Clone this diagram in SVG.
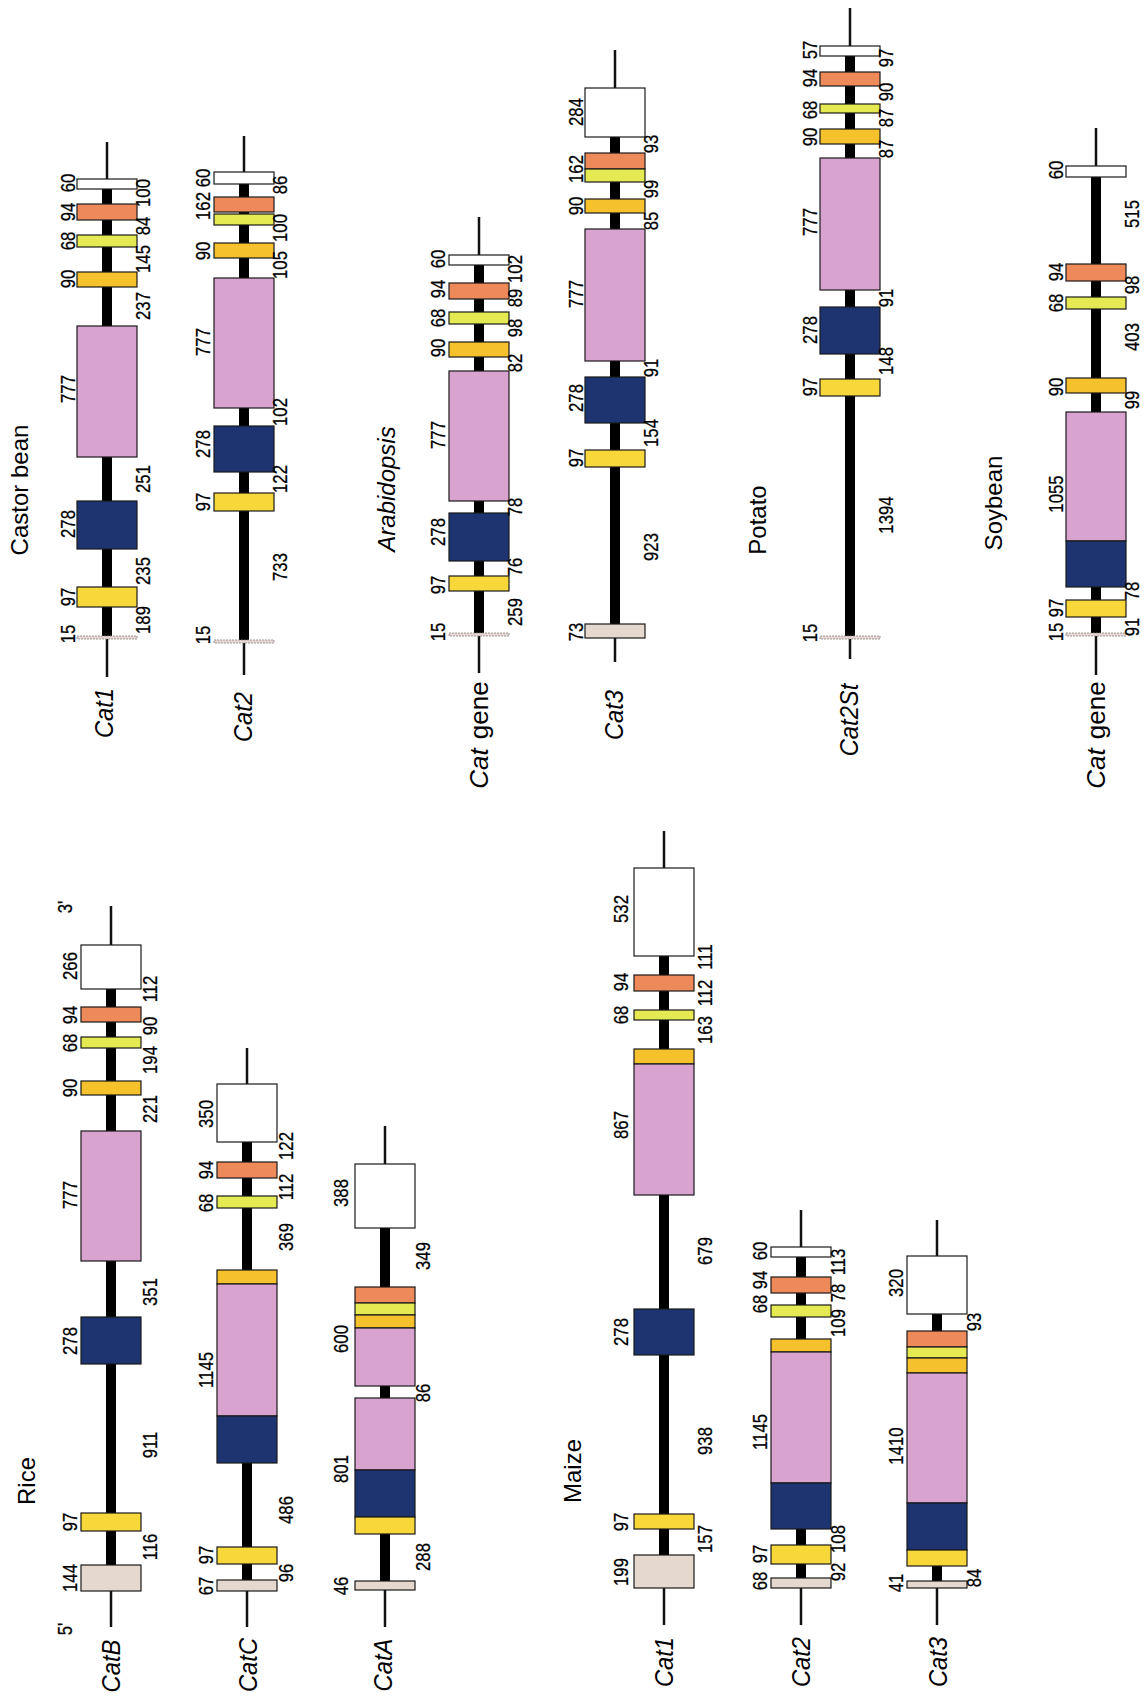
<svg xmlns="http://www.w3.org/2000/svg" width="1146" height="1697" viewBox="0 0 1146 1697">
<style>
.bg{fill:#ffffff}
.thin{stroke:#111;stroke-width:2.5}
.thick{stroke:#000;stroke-width:10}
rect{stroke:#1a1a1a;stroke-width:1.2}
.w{fill:#ffffff}
.o{fill:#ee8a5a}
.g{fill:#e6ea52}
.yo{fill:#f5c12c}
.p{fill:#d9a3cf}
.b{fill:#1d3470}
.y{fill:#f8d73a}
.be{fill:#e5d8cf}
.d{fill:#e6dad6;stroke:#8a8080;stroke-width:0.8;stroke-dasharray:2 1}
text{font-family:"Liberation Sans",Arial,sans-serif;fill:#000;text-anchor:middle}
.n{font-size:19.5px;stroke:#000;stroke-width:0.25}
.gn{font-size:25px;font-style:italic}
.gg{font-size:26px}
.sp{font-size:24px}
.it{font-style:italic}
</style>
<rect class="bg" x="0" y="0" width="1146" height="1697" style="stroke:none"/>

<g id="species-labels">
<text class="sp" transform="translate(28,490) rotate(-90)">Castor bean</text>
<text class="sp it" transform="translate(395,489) rotate(-90)">Arabidopsis</text>
<text class="sp" transform="translate(766,520) rotate(-90)">Potato</text>
<text class="sp" transform="translate(1002,503) rotate(-90)">Soybean</text>
<text class="sp" transform="translate(35,1481) rotate(-90)">Rice</text>
<text class="sp" transform="translate(581,1471) rotate(-90)">Maize</text>
<text class="n" transform="translate(72,907) rotate(-90) scale(0.86,1)">3'</text>
<text class="n" transform="translate(72,1629) rotate(-90) scale(0.86,1)">5'</text>
</g>

<g id="castor-cat1">
<line class="thin" x1="107" y1="142" x2="107" y2="677"/>
<line class="thick" x1="107" y1="184" x2="107" y2="637"/>
<rect class="w" x="77" y="179" width="60" height="10"/>
<rect class="o" x="77" y="204" width="60" height="16"/>
<rect class="g" x="77" y="235" width="60" height="12"/>
<rect class="yo" x="77" y="272" width="60" height="15"/>
<rect class="p" x="77" y="326" width="60" height="131"/>
<rect class="b" x="77" y="501" width="60" height="48"/>
<rect class="y" x="77" y="587" width="60" height="20"/>
<rect class="d" x="77" y="636" width="60" height="3"/>
<text class="gn" transform="translate(113,713) rotate(-90) scale(0.95,1)">Cat1</text>
<g transform="translate(75,0)">
<text class="n" transform="translate(0,634) rotate(-90) scale(0.86,1)">15</text>
<text class="n" transform="translate(0,597) rotate(-90) scale(0.86,1)">97</text>
<text class="n" transform="translate(0,524) rotate(-90) scale(0.86,1)">278</text>
<text class="n" transform="translate(0,389) rotate(-90) scale(0.86,1)">777</text>
<text class="n" transform="translate(0,279) rotate(-90) scale(0.86,1)">90</text>
<text class="n" transform="translate(0,241) rotate(-90) scale(0.86,1)">68</text>
<text class="n" transform="translate(0,212) rotate(-90) scale(0.86,1)">94</text>
<text class="n" transform="translate(0,183) rotate(-90) scale(0.86,1)">60</text>
</g>
<g transform="translate(150,0)">
<text class="n" transform="translate(0,620) rotate(-90) scale(0.86,1)">189</text>
<text class="n" transform="translate(0,571) rotate(-90) scale(0.86,1)">235</text>
<text class="n" transform="translate(0,479) rotate(-90) scale(0.86,1)">251</text>
<text class="n" transform="translate(0,306) rotate(-90) scale(0.86,1)">237</text>
<text class="n" transform="translate(0,259) rotate(-90) scale(0.86,1)">145</text>
<text class="n" transform="translate(0,226) rotate(-90) scale(0.86,1)">84</text>
<text class="n" transform="translate(0,193) rotate(-90) scale(0.86,1)">100</text>
</g>
</g>

<g id="castor-cat2">
<line class="thin" x1="244" y1="136" x2="244" y2="675"/>
<line class="thick" x1="244" y1="178" x2="244" y2="641"/>
<rect class="w" x="214" y="172" width="60" height="12"/>
<rect class="o" x="214" y="197" width="60" height="15"/>
<rect class="g" x="214" y="214" width="60" height="11"/>
<rect class="yo" x="214" y="243" width="60" height="15"/>
<rect class="p" x="214" y="278" width="60" height="130"/>
<rect class="b" x="214" y="426" width="60" height="46"/>
<rect class="y" x="214" y="493" width="60" height="18"/>
<rect class="d" x="214" y="640" width="60" height="3"/>
<text class="gn" transform="translate(252,717) rotate(-90) scale(0.95,1)">Cat2</text>
<g transform="translate(210,0)">
<text class="n" transform="translate(0,635) rotate(-90) scale(0.86,1)">15</text>
<text class="n" transform="translate(0,502) rotate(-90) scale(0.86,1)">97</text>
<text class="n" transform="translate(0,444) rotate(-90) scale(0.86,1)">278</text>
<text class="n" transform="translate(0,342) rotate(-90) scale(0.86,1)">777</text>
<text class="n" transform="translate(0,251) rotate(-90) scale(0.86,1)">90</text>
<text class="n" transform="translate(0,206) rotate(-90) scale(0.86,1)">162</text>
<text class="n" transform="translate(0,178) rotate(-90) scale(0.86,1)">60</text>
</g>
<g transform="translate(287,0)">
<text class="n" transform="translate(0,567) rotate(-90) scale(0.86,1)">733</text>
<text class="n" transform="translate(0,479) rotate(-90) scale(0.86,1)">122</text>
<text class="n" transform="translate(0,412) rotate(-90) scale(0.86,1)">102</text>
<text class="n" transform="translate(0,265) rotate(-90) scale(0.86,1)">105</text>
<text class="n" transform="translate(0,228) rotate(-90) scale(0.86,1)">100</text>
<text class="n" transform="translate(0,185) rotate(-90) scale(0.86,1)">86</text>
</g>
</g>

<g id="arabidopsis-cat">
<line class="thin" x1="479" y1="217" x2="479" y2="673"/>
<line class="thick" x1="479" y1="260" x2="479" y2="634"/>
<rect class="w" x="449" y="255" width="60" height="10"/>
<rect class="o" x="449" y="283" width="60" height="16"/>
<rect class="g" x="449" y="312" width="60" height="12"/>
<rect class="yo" x="449" y="342" width="60" height="15"/>
<rect class="p" x="449" y="371" width="60" height="130"/>
<rect class="b" x="449" y="513" width="60" height="48"/>
<rect class="y" x="449" y="576" width="60" height="15"/>
<rect class="d" x="449" y="633" width="60" height="3"/>
<text class="gg" transform="translate(488,735) rotate(-90)"><tspan class="it">Cat</tspan><tspan dx="9">gene</tspan></text>
<g transform="translate(445,0)">
<text class="n" transform="translate(0,632) rotate(-90) scale(0.86,1)">15</text>
<text class="n" transform="translate(0,585) rotate(-90) scale(0.86,1)">97</text>
<text class="n" transform="translate(0,532) rotate(-90) scale(0.86,1)">278</text>
<text class="n" transform="translate(0,435) rotate(-90) scale(0.86,1)">777</text>
<text class="n" transform="translate(0,348) rotate(-90) scale(0.86,1)">90</text>
<text class="n" transform="translate(0,318) rotate(-90) scale(0.86,1)">68</text>
<text class="n" transform="translate(0,289) rotate(-90) scale(0.86,1)">94</text>
<text class="n" transform="translate(0,259) rotate(-90) scale(0.86,1)">60</text>
</g>
<g transform="translate(522,0)">
<text class="n" transform="translate(0,612) rotate(-90) scale(0.86,1)">259</text>
<text class="n" transform="translate(0,567) rotate(-90) scale(0.86,1)">76</text>
<text class="n" transform="translate(0,507) rotate(-90) scale(0.86,1)">78</text>
<text class="n" transform="translate(0,363) rotate(-90) scale(0.86,1)">82</text>
<text class="n" transform="translate(0,328) rotate(-90) scale(0.86,1)">98</text>
<text class="n" transform="translate(0,298) rotate(-90) scale(0.86,1)">89</text>
<text class="n" transform="translate(0,269) rotate(-90) scale(0.86,1)">102</text>
</g>
</g>

<g id="arabidopsis-cat3">
<line class="thin" x1="615" y1="50" x2="615" y2="662"/>
<line class="thick" x1="615" y1="112" x2="615" y2="631"/>
<rect class="w" x="585" y="88" width="60" height="49"/>
<rect class="o" x="585" y="153" width="60" height="16"/>
<rect class="g" x="585" y="169" width="60" height="13"/>
<rect class="yo" x="585" y="199" width="60" height="14"/>
<rect class="p" x="585" y="229" width="60" height="132"/>
<rect class="b" x="585" y="377" width="60" height="46"/>
<rect class="y" x="585" y="450" width="60" height="17"/>
<rect class="be" x="585" y="624" width="60" height="14"/>
<text class="gn" transform="translate(623,715) rotate(-90) scale(0.95,1)">Cat3</text>
<g transform="translate(583,0)">
<text class="n" transform="translate(0,632) rotate(-90) scale(0.86,1)">73</text>
<text class="n" transform="translate(0,458) rotate(-90) scale(0.86,1)">97</text>
<text class="n" transform="translate(0,398) rotate(-90) scale(0.86,1)">278</text>
<text class="n" transform="translate(0,294) rotate(-90) scale(0.86,1)">777</text>
<text class="n" transform="translate(0,206) rotate(-90) scale(0.86,1)">90</text>
<text class="n" transform="translate(0,169) rotate(-90) scale(0.86,1)">162</text>
<text class="n" transform="translate(0,112) rotate(-90) scale(0.86,1)">284</text>
</g>
<g transform="translate(658,0)">
<text class="n" transform="translate(0,547) rotate(-90) scale(0.86,1)">923</text>
<text class="n" transform="translate(0,433) rotate(-90) scale(0.86,1)">154</text>
<text class="n" transform="translate(0,368) rotate(-90) scale(0.86,1)">91</text>
<text class="n" transform="translate(0,221) rotate(-90) scale(0.86,1)">85</text>
<text class="n" transform="translate(0,189) rotate(-90) scale(0.86,1)">99</text>
<text class="n" transform="translate(0,144) rotate(-90) scale(0.86,1)">93</text>
</g>
</g>

<g id="potato-cat2st">
<line class="thin" x1="850" y1="8" x2="850" y2="659"/>
<line class="thick" x1="850" y1="51" x2="850" y2="637"/>
<rect class="w" x="820" y="46" width="60" height="10"/>
<rect class="o" x="820" y="72" width="60" height="14"/>
<rect class="g" x="820" y="104" width="60" height="9"/>
<rect class="yo" x="820" y="129" width="60" height="15"/>
<rect class="p" x="820" y="158" width="60" height="132"/>
<rect class="b" x="820" y="307" width="60" height="47"/>
<rect class="y" x="820" y="379" width="60" height="17"/>
<rect class="d" x="820" y="636" width="60" height="3"/>
<text class="gn" transform="translate(858,720) rotate(-90) scale(0.95,1)">Cat2St</text>
<g transform="translate(817,0)">
<text class="n" transform="translate(0,633) rotate(-90) scale(0.86,1)">15</text>
<text class="n" transform="translate(0,387) rotate(-90) scale(0.86,1)">97</text>
<text class="n" transform="translate(0,330) rotate(-90) scale(0.86,1)">278</text>
<text class="n" transform="translate(0,222) rotate(-90) scale(0.86,1)">777</text>
<text class="n" transform="translate(0,137) rotate(-90) scale(0.86,1)">90</text>
<text class="n" transform="translate(0,110) rotate(-90) scale(0.86,1)">68</text>
<text class="n" transform="translate(0,78) rotate(-90) scale(0.86,1)">94</text>
<text class="n" transform="translate(0,50) rotate(-90) scale(0.86,1)">57</text>
</g>
<g transform="translate(893,0)">
<text class="n" transform="translate(0,515) rotate(-90) scale(0.86,1)">1394</text>
<text class="n" transform="translate(0,361) rotate(-90) scale(0.86,1)">148</text>
<text class="n" transform="translate(0,298) rotate(-90) scale(0.86,1)">91</text>
<text class="n" transform="translate(0,149) rotate(-90) scale(0.86,1)">87</text>
<text class="n" transform="translate(0,118) rotate(-90) scale(0.86,1)">87</text>
<text class="n" transform="translate(0,92) rotate(-90) scale(0.86,1)">90</text>
<text class="n" transform="translate(0,58) rotate(-90) scale(0.86,1)">97</text>
</g>
</g>

<g id="soybean-cat">
<line class="thin" x1="1096" y1="128" x2="1096" y2="675"/>
<line class="thick" x1="1096" y1="172" x2="1096" y2="634"/>
<rect class="w" x="1066" y="166" width="60" height="11"/>
<rect class="o" x="1066" y="264" width="60" height="17"/>
<rect class="g" x="1066" y="297" width="60" height="12"/>
<rect class="yo" x="1066" y="378" width="60" height="15"/>
<rect class="p" x="1066" y="412" width="60" height="129"/>
<rect class="b" x="1066" y="541" width="60" height="46"/>
<rect class="y" x="1066" y="600" width="60" height="17"/>
<rect class="d" x="1066" y="633" width="60" height="3"/>
<text class="gg" transform="translate(1105,735) rotate(-90)"><tspan class="it">Cat</tspan><tspan dx="9">gene</tspan></text>
<g transform="translate(1063,0)">
<text class="n" transform="translate(0,632) rotate(-90) scale(0.86,1)">15</text>
<text class="n" transform="translate(0,608) rotate(-90) scale(0.86,1)">97</text>
<text class="n" transform="translate(0,494) rotate(-90) scale(0.86,1)">1055</text>
<text class="n" transform="translate(0,387) rotate(-90) scale(0.86,1)">90</text>
<text class="n" transform="translate(0,303) rotate(-90) scale(0.86,1)">68</text>
<text class="n" transform="translate(0,272) rotate(-90) scale(0.86,1)">94</text>
<text class="n" transform="translate(0,170) rotate(-90) scale(0.86,1)">60</text>
</g>
<g transform="translate(1139,0)">
<text class="n" transform="translate(0,627) rotate(-90) scale(0.86,1)">91</text>
<text class="n" transform="translate(0,591) rotate(-90) scale(0.86,1)">78</text>
<text class="n" transform="translate(0,400) rotate(-90) scale(0.86,1)">99</text>
<text class="n" transform="translate(0,337) rotate(-90) scale(0.86,1)">403</text>
<text class="n" transform="translate(0,285) rotate(-90) scale(0.86,1)">98</text>
<text class="n" transform="translate(0,214) rotate(-90) scale(0.86,1)">515</text>
</g>
</g>

<g id="rice-catb">
<line class="thin" x1="111" y1="906" x2="111" y2="1627"/>
<line class="thick" x1="111" y1="967" x2="111" y2="1578"/>
<rect class="w" x="81" y="945" width="60" height="44"/>
<rect class="o" x="81" y="1007" width="60" height="15"/>
<rect class="g" x="81" y="1037" width="60" height="11"/>
<rect class="yo" x="81" y="1081" width="60" height="14"/>
<rect class="p" x="81" y="1131" width="60" height="130"/>
<rect class="b" x="81" y="1317" width="60" height="47"/>
<rect class="y" x="81" y="1513" width="60" height="18"/>
<rect class="be" x="81" y="1565" width="60" height="26"/>
<text class="gn" transform="translate(120,1666) rotate(-90) scale(0.95,1)">CatB</text>
<g transform="translate(77,0)">
<text class="n" transform="translate(0,1578) rotate(-90) scale(0.86,1)">144</text>
<text class="n" transform="translate(0,1522) rotate(-90) scale(0.86,1)">97</text>
<text class="n" transform="translate(0,1341) rotate(-90) scale(0.86,1)">278</text>
<text class="n" transform="translate(0,1195) rotate(-90) scale(0.86,1)">777</text>
<text class="n" transform="translate(0,1088) rotate(-90) scale(0.86,1)">90</text>
<text class="n" transform="translate(0,1043) rotate(-90) scale(0.86,1)">68</text>
<text class="n" transform="translate(0,1015) rotate(-90) scale(0.86,1)">94</text>
<text class="n" transform="translate(0,966) rotate(-90) scale(0.86,1)">266</text>
</g>
<g transform="translate(157,0)">
<text class="n" transform="translate(0,1547) rotate(-90) scale(0.86,1)">116</text>
<text class="n" transform="translate(0,1445) rotate(-90) scale(0.86,1)">911</text>
<text class="n" transform="translate(0,1292) rotate(-90) scale(0.86,1)">351</text>
<text class="n" transform="translate(0,1109) rotate(-90) scale(0.86,1)">221</text>
<text class="n" transform="translate(0,1060) rotate(-90) scale(0.86,1)">194</text>
<text class="n" transform="translate(0,1026) rotate(-90) scale(0.86,1)">90</text>
<text class="n" transform="translate(0,989) rotate(-90) scale(0.86,1)">112</text>
</g>
</g>

<g id="rice-catc">
<line class="thin" x1="247" y1="1048" x2="247" y2="1627"/>
<line class="thick" x1="247" y1="1113" x2="247" y2="1585"/>
<rect class="w" x="217" y="1084" width="60" height="58"/>
<rect class="o" x="217" y="1162" width="60" height="16"/>
<rect class="g" x="217" y="1196" width="60" height="12"/>
<rect class="yo" x="217" y="1270" width="60" height="14"/>
<rect class="p" x="217" y="1284" width="60" height="132"/>
<rect class="b" x="217" y="1416" width="60" height="47"/>
<rect class="y" x="217" y="1547" width="60" height="17"/>
<rect class="be" x="217" y="1580" width="60" height="11"/>
<text class="gn" transform="translate(257,1665) rotate(-90) scale(0.95,1)">CatC</text>
<g transform="translate(213,0)">
<text class="n" transform="translate(0,1586) rotate(-90) scale(0.86,1)">67</text>
<text class="n" transform="translate(0,1555) rotate(-90) scale(0.86,1)">97</text>
<text class="n" transform="translate(0,1370) rotate(-90) scale(0.86,1)">1145</text>
<text class="n" transform="translate(0,1203) rotate(-90) scale(0.86,1)">68</text>
<text class="n" transform="translate(0,1170) rotate(-90) scale(0.86,1)">94</text>
<text class="n" transform="translate(0,1114) rotate(-90) scale(0.86,1)">350</text>
</g>
<g transform="translate(293,0)">
<text class="n" transform="translate(0,1573) rotate(-90) scale(0.86,1)">96</text>
<text class="n" transform="translate(0,1510) rotate(-90) scale(0.86,1)">486</text>
<text class="n" transform="translate(0,1237) rotate(-90) scale(0.86,1)">369</text>
<text class="n" transform="translate(0,1187) rotate(-90) scale(0.86,1)">112</text>
<text class="n" transform="translate(0,1146) rotate(-90) scale(0.86,1)">122</text>
</g>
</g>

<g id="rice-cata">
<line class="thin" x1="385" y1="1126" x2="385" y2="1627"/>
<line class="thick" x1="385" y1="1196" x2="385" y2="1585"/>
<rect class="w" x="355" y="1164" width="60" height="64"/>
<rect class="o" x="355" y="1287" width="60" height="16"/>
<rect class="g" x="355" y="1303" width="60" height="12"/>
<rect class="yo" x="355" y="1315" width="60" height="13"/>
<rect class="p" x="355" y="1328" width="60" height="58"/>
<rect class="p" x="355" y="1398" width="60" height="72"/>
<rect class="b" x="355" y="1470" width="60" height="47"/>
<rect class="y" x="355" y="1517" width="60" height="17"/>
<rect class="be" x="355" y="1581" width="60" height="9"/>
<text class="gn" transform="translate(392,1665) rotate(-90) scale(0.95,1)">CatA</text>
<g transform="translate(348,0)">
<text class="n" transform="translate(0,1586) rotate(-90) scale(0.86,1)">46</text>
<text class="n" transform="translate(0,1469) rotate(-90) scale(0.86,1)">801</text>
<text class="n" transform="translate(0,1339) rotate(-90) scale(0.86,1)">600</text>
<text class="n" transform="translate(0,1193) rotate(-90) scale(0.86,1)">388</text>
</g>
<g transform="translate(430,0)">
<text class="n" transform="translate(0,1557) rotate(-90) scale(0.86,1)">288</text>
<text class="n" transform="translate(0,1393) rotate(-90) scale(0.86,1)">86</text>
<text class="n" transform="translate(0,1256) rotate(-90) scale(0.86,1)">349</text>
</g>
</g>

<g id="maize-cat1">
<line class="thin" x1="664" y1="831" x2="664" y2="1625"/>
<line class="thick" x1="664" y1="912" x2="664" y2="1570"/>
<rect class="w" x="634" y="868" width="60" height="88"/>
<rect class="o" x="634" y="975" width="60" height="16"/>
<rect class="g" x="634" y="1010" width="60" height="10"/>
<rect class="yo" x="634" y="1049" width="60" height="15"/>
<rect class="p" x="634" y="1064" width="60" height="131"/>
<rect class="b" x="634" y="1309" width="60" height="46"/>
<rect class="y" x="634" y="1514" width="60" height="15"/>
<rect class="be" x="634" y="1555" width="60" height="33"/>
<text class="gn" transform="translate(673,1662) rotate(-90) scale(0.95,1)">Cat1</text>
<g transform="translate(628,0)">
<text class="n" transform="translate(0,1572) rotate(-90) scale(0.86,1)">199</text>
<text class="n" transform="translate(0,1522) rotate(-90) scale(0.86,1)">97</text>
<text class="n" transform="translate(0,1332) rotate(-90) scale(0.86,1)">278</text>
<text class="n" transform="translate(0,1125) rotate(-90) scale(0.86,1)">867</text>
<text class="n" transform="translate(0,1015) rotate(-90) scale(0.86,1)">68</text>
<text class="n" transform="translate(0,982) rotate(-90) scale(0.86,1)">94</text>
<text class="n" transform="translate(0,909) rotate(-90) scale(0.86,1)">532</text>
</g>
<g transform="translate(712,0)">
<text class="n" transform="translate(0,1539) rotate(-90) scale(0.86,1)">157</text>
<text class="n" transform="translate(0,1441) rotate(-90) scale(0.86,1)">938</text>
<text class="n" transform="translate(0,1251) rotate(-90) scale(0.86,1)">679</text>
<text class="n" transform="translate(0,1030) rotate(-90) scale(0.86,1)">163</text>
<text class="n" transform="translate(0,993) rotate(-90) scale(0.86,1)">112</text>
<text class="n" transform="translate(0,957) rotate(-90) scale(0.86,1)">111</text>
</g>
</g>

<g id="maize-cat2">
<line class="thin" x1="801" y1="1210" x2="801" y2="1625"/>
<line class="thick" x1="801" y1="1252" x2="801" y2="1583"/>
<rect class="w" x="771" y="1247" width="60" height="10"/>
<rect class="o" x="771" y="1277" width="60" height="16"/>
<rect class="g" x="771" y="1305" width="60" height="12"/>
<rect class="yo" x="771" y="1339" width="60" height="13"/>
<rect class="p" x="771" y="1352" width="60" height="131"/>
<rect class="b" x="771" y="1483" width="60" height="46"/>
<rect class="y" x="771" y="1545" width="60" height="19"/>
<rect class="be" x="771" y="1578" width="60" height="10"/>
<text class="gn" transform="translate(810,1662) rotate(-90) scale(0.95,1)">Cat2</text>
<g transform="translate(767,0)">
<text class="n" transform="translate(0,1581) rotate(-90) scale(0.86,1)">68</text>
<text class="n" transform="translate(0,1554) rotate(-90) scale(0.86,1)">97</text>
<text class="n" transform="translate(0,1432) rotate(-90) scale(0.86,1)">1145</text>
<text class="n" transform="translate(0,1304) rotate(-90) scale(0.86,1)">68</text>
<text class="n" transform="translate(0,1280) rotate(-90) scale(0.86,1)">94</text>
<text class="n" transform="translate(0,1251) rotate(-90) scale(0.86,1)">60</text>
</g>
<g transform="translate(845,0)">
<text class="n" transform="translate(0,1572) rotate(-90) scale(0.86,1)">92</text>
<text class="n" transform="translate(0,1539) rotate(-90) scale(0.86,1)">108</text>
<text class="n" transform="translate(0,1323) rotate(-90) scale(0.86,1)">109</text>
<text class="n" transform="translate(0,1293) rotate(-90) scale(0.86,1)">78</text>
<text class="n" transform="translate(0,1262) rotate(-90) scale(0.86,1)">113</text>
</g>
</g>

<g id="maize-cat3">
<line class="thin" x1="937" y1="1220" x2="937" y2="1625"/>
<line class="thick" x1="937" y1="1285" x2="937" y2="1584"/>
<rect class="w" x="907" y="1256" width="60" height="58"/>
<rect class="o" x="907" y="1331" width="60" height="16"/>
<rect class="g" x="907" y="1347" width="60" height="11"/>
<rect class="yo" x="907" y="1358" width="60" height="15"/>
<rect class="p" x="907" y="1373" width="60" height="130"/>
<rect class="b" x="907" y="1503" width="60" height="47"/>
<rect class="y" x="907" y="1550" width="60" height="16"/>
<rect class="be" x="907" y="1581" width="60" height="7"/>
<text class="gn" transform="translate(947,1662) rotate(-90) scale(0.95,1)">Cat3</text>
<g transform="translate(903,0)">
<text class="n" transform="translate(0,1583) rotate(-90) scale(0.86,1)">41</text>
<text class="n" transform="translate(0,1446) rotate(-90) scale(0.86,1)">1410</text>
<text class="n" transform="translate(0,1283) rotate(-90) scale(0.86,1)">320</text>
</g>
<g transform="translate(981,0)">
<text class="n" transform="translate(0,1578) rotate(-90) scale(0.86,1)">84</text>
<text class="n" transform="translate(0,1322) rotate(-90) scale(0.86,1)">93</text>
</g>
</g>
</svg>
